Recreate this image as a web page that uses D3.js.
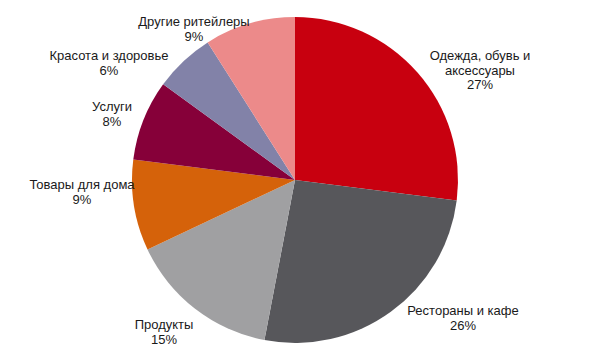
<!DOCTYPE html>
<html><head><meta charset="utf-8">
<script src="https://cdn.jsdelivr.net/npm/d3@7"></script>
<style>body{margin:0;background:#fff}svg{display:block}</style>
</head><body>
<svg id="c" width="600" height="360"></svg>
<script>
const categories = ["Одежда, обувь и аксессуары","Рестораны и кафе","Продукты","Товары для дома","Услуги","Красота и здоровье","Другие ритейлеры"];
const labelLines = [["Одежда, обувь и","аксессуары"],["Рестораны и кафе"],["Продукты"],["Товары для дома"],["Услуги"],["Красота и здоровье"],["Другие ритейлеры"]];
const values = [27,26,15,9,8,6,9];
const colors = ["#C8000F","#57575B","#A0A0A2","#D5620A","#860039","#8282A8","#EC8A8A"];
// label anchor centres (first line centre)
const labelPos = [[480,55],[463,310],[164,324],[82,184],[112,106],[109,55],[194,21]];

const svg = d3.select("#c");
const cx = 295, cy = 180, R = 163;
const pie = d3.pie().sort(null).value(d=>d)(values);
const arc = d3.arc().innerRadius(0).outerRadius(R);
const g = svg.append("g").attr("transform",`translate(${cx},${cy})`);
g.selectAll("path").data(pie).join("path")
  .attr("d",arc).attr("fill",(d,i)=>colors[i]);

const lh = 14.5;
const lbl = svg.append("g").attr("font-family","Liberation Sans, Arial, sans-serif").attr("font-size",13).attr("fill","#1a1a1a").attr("text-anchor","middle");
values.forEach((v,i)=>{
  const t = lbl.append("text").attr("x",labelPos[i][0]).attr("y",labelPos[i][1]).attr("dominant-baseline","central");
  const lines = labelLines[i].concat([v+"%"]);
  lines.forEach((s,j)=>t.append("tspan").attr("x",labelPos[i][0]).attr("dy",j===0?0:lh).text(s));
});
</script>
</body></html>
